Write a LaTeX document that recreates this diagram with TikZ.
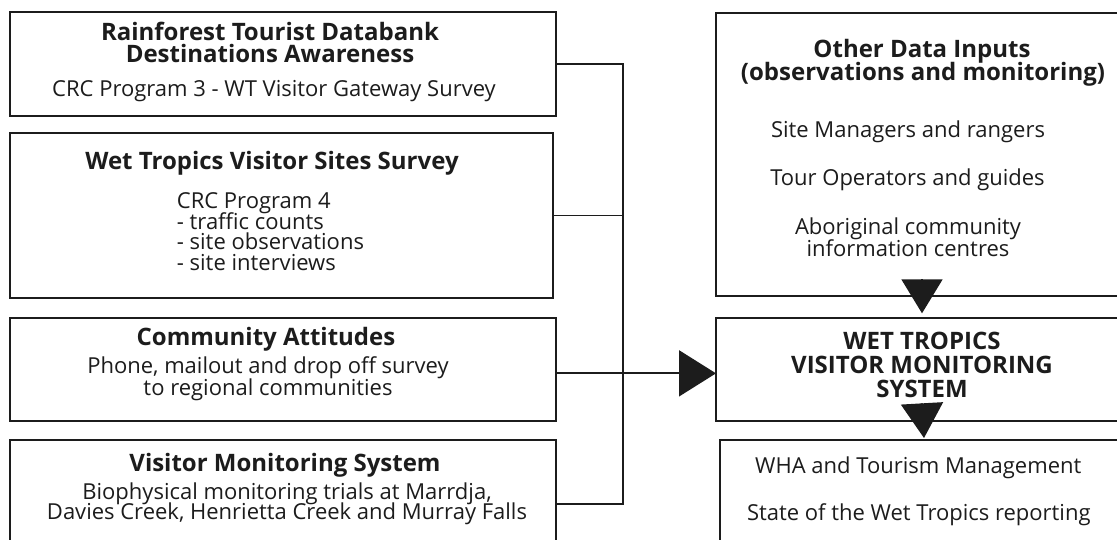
\documentclass[tikz,border=0pt]{standalone}
\usepackage{fontspec}
\setmainfont{Open Sans}
\usetikzlibrary{arrows.meta}
\definecolor{ink}{HTML}{1C1C1C}
\tikzset{
  x=1pt, y=-1pt,
  box/.style={draw=ink, line width=2pt, rectangle, inner sep=0pt, outer sep=0pt, anchor=north west},
  conn/.style={draw=ink, line width=1.8pt},
  head/.style={inner sep=0pt, anchor=base, text=ink, font=\fontsize{24}{24}\selectfont\bfseries},
  body/.style={inner sep=0pt, anchor=base, text=ink, font=\fontsize{22}{22}\selectfont},
  listline/.style={body, anchor=base west},
}
\begin{document}
\begin{tikzpicture}
\clip (0,0) rectangle (1117,539);
\fill[white] (0,0) rectangle (1117,539);

% input boxes on the left
\node[box, minimum width=546pt, minimum height=103.4pt] (b1) at (10,12.3) {};
\node[box, minimum width=542.7pt, minimum height=164.4pt] (b2) at (10,133.3) {};
\node[box, minimum width=545.7pt, minimum height=103.3pt] (b3) at (10,317.7) {};
\node[box, minimum width=545.7pt, minimum height=128pt] (b4) at (10,440) {};

% boxes on the right
\node[box, minimum width=412pt, minimum height=283.2pt] (r1) at (716,12.5) {};
\node[box, minimum width=412pt, minimum height=102.7pt] (wet) at (716,318) {};
\node[box, minimum width=408pt, minimum height=128pt] (r3) at (720,439.5) {};

% texts of the input boxes
\node[head] (t1a) at (270,40.5) {Rainforest Tourist Databank};
\node[head] (t1b) at (270,62.5) {Destinations Awareness};
\node[body] (t1c) at (274,96.7) {CRC Program 3 - WT Visitor Gateway Survey};

\node[head] (t2a) at (272,169.3) {Wet Tropics Visitor Sites Survey};
\node[listline] (t2b) at (176.7,208.3) {CRC Program 4};
\node[listline] (t2c) at (176.7,229) {- traffic counts};
\node[listline] (t2d) at (176.7,249.7) {- site observations};
\node[listline] (t2e) at (176.7,270.4) {- site interviews};

\node[head] (t3a) at (266,345) {Community Attitudes};
\node[body] (t3b) at (268,373.5) {Phone, mailout and drop off survey};
\node[body] (t3c) at (268,395) {to regional communities};

\node[head] (t4a) at (285,471.7) {Visitor Monitoring System};
\node[body] (t4b) at (287,499.3) {Biophysical monitoring trials at Marrdja,};
\node[body] (t4c) at (287,519.5) {Davies Creek, Henrietta Creek and Murray Falls};

% texts of the right boxes
\node[head] (r1a) at (922,57) {Other Data Inputs};
\node[head] (r1b) at (923,80.5) {(observations and monitoring)};
\node[body] (r1c) at (908,137) {Site Managers and rangers};
\node[body] (r1d) at (907.5,185) {Tour Operators and guides};
\node[body] (r1e) at (908,234) {Aboriginal community};
\node[body] (r1f) at (908,256) {information centres};

\node[head] (w1) at (922,349) {WET TROPICS};
\node[head] (w2) at (922,373.4) {VISITOR MONITORING};
\node[head] (w3) at (922,397.8) {SYSTEM};

\node[body] (r3a) at (918.3,473.3) {WHA and Tourism Management};
\node[body] (r3b) at (918.8,520) {State of the Wet Tropics reporting};

% collecting line and connectors
\coordinate (bus) at (623.3,0);
\draw[conn] (b1.east) -| (bus |- b4.east) -- (b4.east);
\draw[conn] (b2.east) -- (b2.east -| bus);
\draw[conn, -{Triangle[length=37pt, width=46pt]}]
  ([yshift=-4pt]b3.east) -- ([yshift=-4pt]wet.west);
\draw[conn, -{Triangle[length=34pt, width=41pt]}]
  ([yshift=16.4pt]r1.south) -- ([yshift=4.7pt]wet.north);
\draw[conn, -{Triangle[length=34.7pt, width=42pt]}]
  ([yshift=17.4pt]wet.south) -- ([yshift=1.5pt]r3.north);
\end{tikzpicture}
\end{document}
